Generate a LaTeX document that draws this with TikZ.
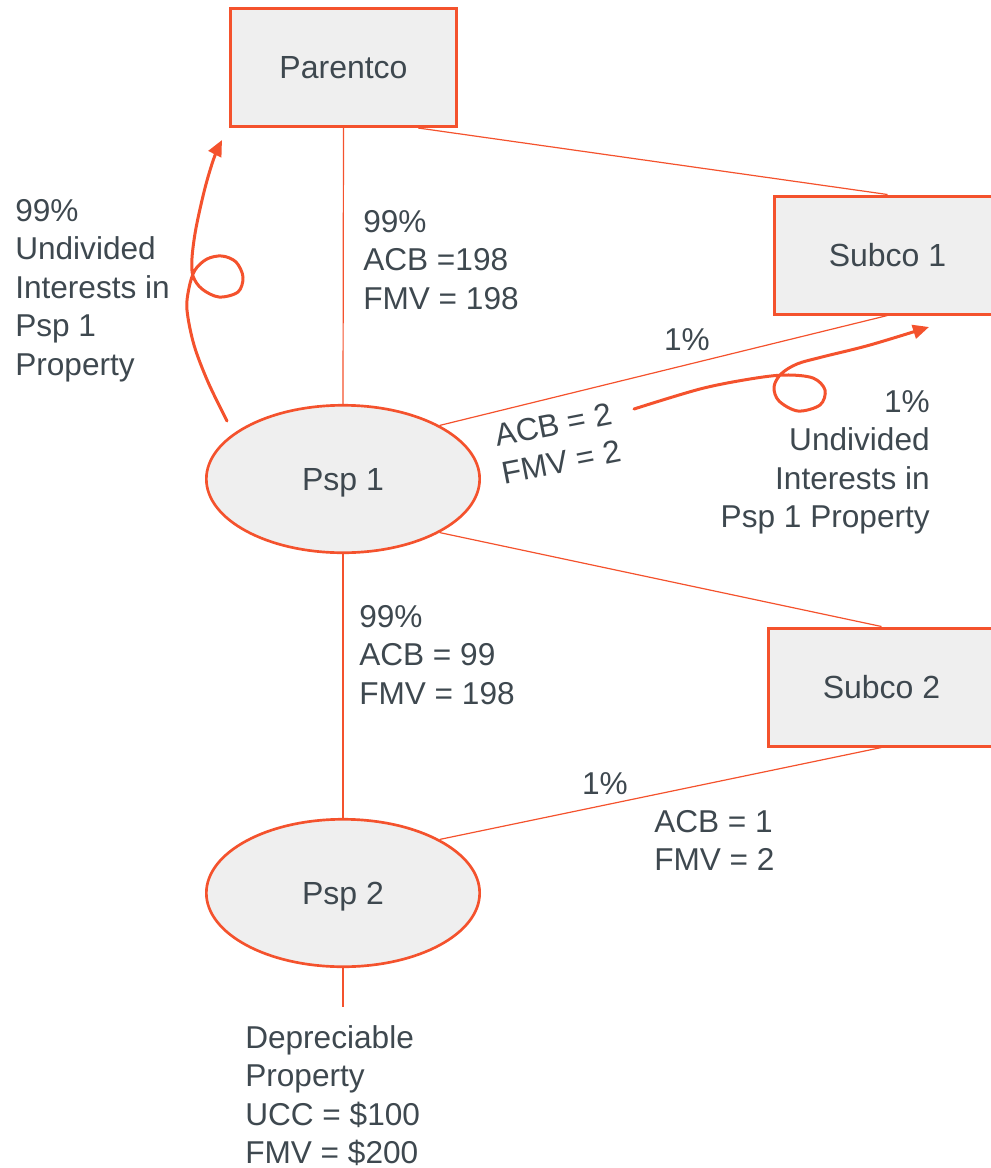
\documentclass[tikz,border=0pt]{standalone}
\usepackage{fontspec}
\setmainfont{Liberation Sans}
\usetikzlibrary{arrows.meta,shapes.geometric}
\definecolor{brand}{HTML}{F4522D}
\definecolor{ink}{HTML}{3E484F}
\definecolor{boxfill}{HTML}{EFEFEF}
\begin{document}
\begin{tikzpicture}[x=0.75pt,y=-0.75pt,
  entity/.style={rectangle, draw=brand, line width=2.25pt, fill=boxfill,
    minimum width=170pt, minimum height=88.5pt, inner sep=0pt,
    font=\fontsize{24}{29}\selectfont, text=ink},
  partner/.style={ellipse, draw=brand, line width=2pt, fill=boxfill,
    minimum width=205pt, minimum height=110.6pt, inner sep=0pt, text depth=0pt,
    font=\fontsize{24}{29}\selectfont, text=ink},
  link/.style={draw=brand, line width=0.9pt},
  note/.style={font=\fontsize{23.7}{28.9}\selectfont, text=ink, inner sep=0pt},
  flow/.style={draw=brand, line width=2.25pt, line cap=round, line join=round,
    -{Triangle[length=12pt,width=10.5pt]}}]
\useasboundingbox (0,0) rectangle (991,1168);

% nodes
\node[entity] (parent) at (343.5,67.5) {Parentco};
\node[entity] (sub1) at (887.5,255) {Subco 1};
\node[entity] (sub2) at (881.5,687) {Subco 2};
\node[partner] (psp1) at (343,479) {Psp 1};
\node[partner] (psp2) at (343,893) {Psp 2};
\coordinate (propend) at (343,1007);

% connectors
\draw[link] (parent.south) -- (psp1.north);
\draw[link] (parent.-39) -- (sub1.north);
\draw[link] (psp1.29) -- (sub1.south);
\draw[link] (psp1.-29) -- (sub2.north);
\draw[link] (psp1.south) -- (psp2.north);
\draw[link] (psp2.29) -- (sub2.south);
\draw[link] (psp2.south) -- (propend);

% hand-drawn arrows
\coordinate (lstart) at (227,421);
\coordinate (ltip) at (222,140);
\draw[flow] plot[smooth, tension=0.55] coordinates {(lstart) (208,382) (194,345) (187,310) (189,288) (195,270) (207,259) (222,256) (236,262) (243,277) (238,292) (219,297) (202,289) (193,276) (192,258) (196,228) (205,188) (214,158) (ltip)};
\coordinate (rstart) at (634,409);
\coordinate (rtip) at (929,327);
\draw[flow] plot[smooth, tension=0.55] coordinates {(rstart) (700,389) (750,379) (785,375) (813,378) (825,390) (820,405) (798,411) (779,401) (774,387) (781,374) (797,364) (822,357) (870,345) (rtip)};

% labels
\node[note, anchor=north west, align=left] (lbl1) at (363,210) {99\%\\ACB =198\\FMV = 198};
\node[note, anchor=north west, align=left] (lbl2) at (15,199) {99\%\\Undivided\\Interests in\\Psp 1\\Property};
\node[note, anchor=base] (pct1) at (687,350) {1\%};
\node[note, anchor=center, rotate=11, align=left] (lbl3) at (558,443) {ACB = 2\\FMV = 2};
\node[note, anchor=north east, align=right] (lbl4) at (930,390) {1\%\\Undivided\\Interests in\\Psp 1 Property};
\node[note, anchor=north west, align=left] (lbl5) at (359,605) {99\%\\ACB = 99\\FMV = 198};
\node[note, anchor=base] (pct2) at (605,794) {1\%};
\node[note, anchor=north west, align=left] (lbl6) at (654,810) {ACB = 1\\FMV = 2};
\node[note, anchor=north west, align=left] (lbl7) at (245,1025) {Depreciable\\Property\\UCC = \$100\\FMV = \$200};
\end{tikzpicture}
\end{document}
